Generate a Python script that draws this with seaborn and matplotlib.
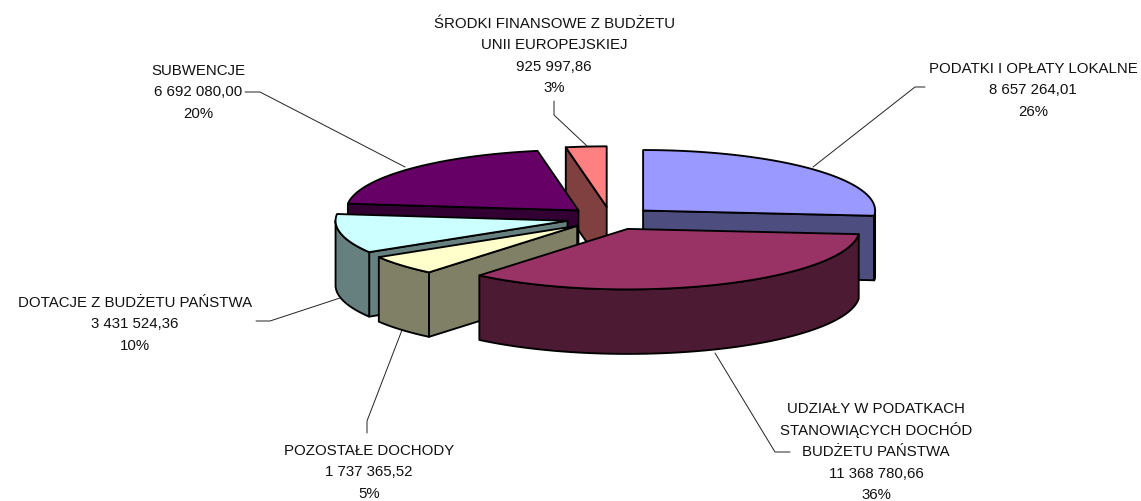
import numpy as np
import matplotlib
matplotlib.use("Agg")
import matplotlib.pyplot as plt
from matplotlib.patches import Polygon
import seaborn as sns

# ---- data ----
categories = [["PODATKI I OPŁATY LOKALNE"],
              ["UDZIAŁY W PODATKACH", "STANOWIĄCYCH DOCHÓD", "BUDŻETU PAŃSTWA"],
              ["POZOSTAŁE DOCHODY"],
              ["DOTACJE Z BUDŻETU PAŃSTWA"],
              ["SUBWENCJE"],
              ["ŚRODKI FINANSOWE Z BUDŻETU", "UNII EUROPEJSKIEJ"]]
values = [8657264.01, 11368780.66, 1737365.52, 3431524.36, 6692080.00, 925997.86]
value_labels = ["8 657 264,01", "11 368 780,66", "1 737 365,52",
                "3 431 524,36", "6 692 080,00", "925 997,86"]
percents = ["26%", "36%", "5%", "10%", "20%", "3%"]
colors = ["#9999FF", "#993366", "#FFFFCC", "#CCFFFF", "#660066", "#FF8080"]

# ---- layout (pixels of the 1141x502 canvas) ----
CX, CY = 610.6, 219.3     # pie centre
RX, RY = 232.0, 60.5      # ellipse radii
EXPLODE = 0.19            # explosion in radius units
DEPTH = 64.5              # extrusion
LINE_PITCH = 21.4
# centre x and first-line baseline of each label
label_xy = [(1033, 73), (876, 413.5), (369, 455), (135, 307), (198, 75), (554, 28)]
leaders = [[(925, 88), (915, 88), (813, 168)],
           [(790, 453), (775, 453), (715, 354)],
           [(367, 434), (367, 422), (402, 331)],
           [(256, 322), (270, 322), (340, 299)],
           [(245, 93), (260, 93), (405, 168)],
           [(554, 102), (554, 116), (587, 147)]]

sns.set_theme(style="white")
plt.rcParams["font.family"] = ["Liberation Sans", "DejaVu Sans"]
palette = sns.color_palette(colors)

fig = plt.figure(figsize=(11.41, 5.02), dpi=100)
ax = fig.add_axes([0, 0, 1, 1])
ax.set_xlim(0, 1141)
ax.set_ylim(502, 0)
ax.axis("off")
sns.despine(ax=ax, left=True, bottom=True)

shares = np.array(values) / np.sum(values)
edges = np.concatenate([[0], np.cumsum(shares) * 360.0])


def rim(theta, apex):
    t = np.radians(theta)
    return np.column_stack([apex[0] + RX * np.sin(t), apex[1] - RY * np.cos(t)])


def face(points, color):
    ax.add_patch(Polygon(points, closed=True, facecolor=color, edgecolor="black",
                         linewidth=1.35, joinstyle="round"))


mids = (edges[:-1] + edges[1:]) / 2
order = np.argsort(-np.cos(np.radians(mids)))
down = np.array([0, DEPTH])
for i in order:
    s, e, m = edges[i], edges[i + 1], np.radians(mids[i])
    apex = np.array([CX + EXPLODE * RX * np.sin(m), CY - EXPLODE * RY * np.cos(m)])
    side = tuple(0.5 * c for c in palette[i])
    # visible cut faces
    for th, visible in ((s, np.sin(np.radians(s)) < -1e-6), (e, np.sin(np.radians(e)) > 1e-6)):
        if visible:
            p = rim(np.array([th]), apex)[0]
            face([apex, p, p + down, apex + down], side)
    # outer wall facing the viewer
    a, b = max(s, 90), min(e, 270)
    if b > a:
        arc = rim(np.linspace(a, b, 60), apex)
        face(np.vstack([arc, arc[::-1] + down]), side)
    # top
    arc = rim(np.linspace(s, e, 120), apex)
    face(np.vstack([apex, arc]), palette[i])

for pts in leaders:
    xs, ys = zip(*pts)
    ax.plot(xs, ys, color="#222222", lw=0.7, zorder=5, solid_joinstyle="miter")

for cat, val, pct, (x, y) in zip(categories, value_labels, percents, label_xy):
    for k, line in enumerate(cat + [val, pct]):
        ax.text(x, y + k * LINE_PITCH, line, ha="center", va="baseline",
                fontsize=10.85, color="#111111")

fig.savefig("out.png", dpi=100)
